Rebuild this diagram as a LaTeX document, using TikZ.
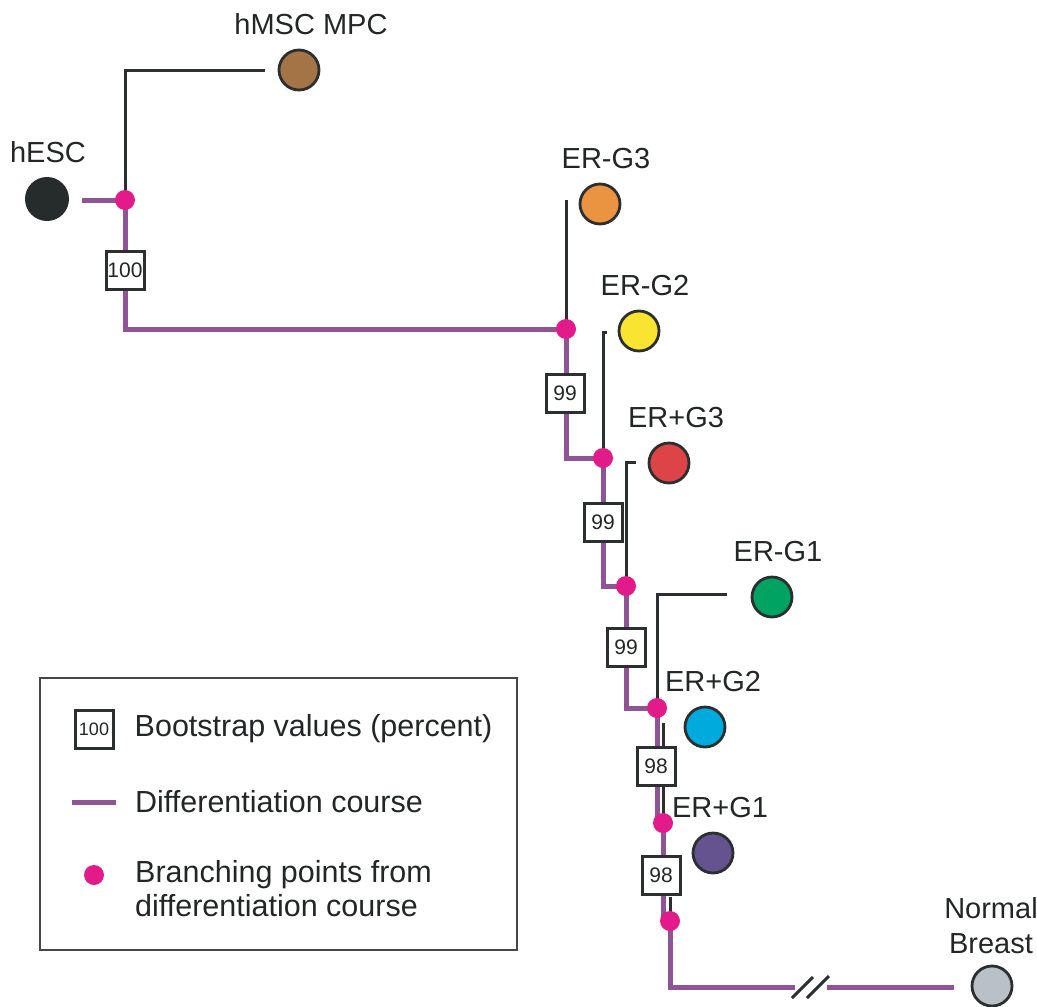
\documentclass[tikz,border=0pt]{standalone}
\usepackage{fontspec}
\setmainfont{Liberation Sans}
\usetikzlibrary{
  backgrounds,
  calc,
  positioning,
}
\definecolor{coursepurple}{RGB}{142,84,150}
\definecolor{branchpink}{RGB}{226,26,138}
\definecolor{linedark}{RGB}{43,47,47}
\definecolor{textdark}{RGB}{35,38,38}
\definecolor{framegray}{RGB}{70,72,72}
\definecolor{cellhesc}{RGB}{38,43,43}
\definecolor{cellmsc}{RGB}{164,115,70}
\definecolor{cellgthree}{RGB}{234,147,64}
\definecolor{cellgtwo}{RGB}{250,228,50}
\definecolor{cellpthree}{RGB}{221,68,71}
\definecolor{cellgone}{RGB}{0,163,98}
\definecolor{cellptwo}{RGB}{0,170,220}
\definecolor{cellpone}{RGB}{101,83,143}
\definecolor{cellnormal}{RGB}{185,192,199}
\tikzset{
  cell/.style={circle,draw=linedark,line width=2.8pt,minimum size=40pt,inner sep=0pt},
  branch/.style={circle,fill=branchpink,minimum size=20pt,inner sep=0pt},
  boot/.style={rectangle,draw=linedark,fill=white,line width=3pt,minimum width=38pt,minimum height=38pt,inner sep=0pt,text=textdark,font=\fontsize{21}{25}\selectfont},
  tag/.style={inner sep=0pt,text=textdark,font=\fontsize{29}{35}\selectfont},
  legtag/.style={inner sep=0pt,text=textdark,font=\fontsize{30.5}{34}\selectfont},
  course/.style={draw=coursepurple,line width=5pt},
  link/.style={draw=linedark,line width=3pt},
}

\begin{document}
\begin{tikzpicture}[x=1pt,y=-1pt,node distance=14pt]
  \useasboundingbox (0,0) rectangle (1037,1007);

  % cell types
  \node[cell,draw=none,fill=cellhesc,minimum size=44pt] (hesc) at (47,199) {};
  \node[cell,fill=cellmsc]    (hmsc)   at (299,70)  {};
  \node[cell,fill=cellgthree] (erg3)   at (600,204) {};
  \node[cell,fill=cellgtwo]   (erg2)   at (639,331) {};
  \node[cell,fill=cellpthree] (erp3)   at (669,463) {};
  \node[cell,fill=cellgone]   (erg1)   at (772,597) {};
  \node[cell,fill=cellptwo]   (erp2)   at (705,727) {};
  \node[cell,fill=cellpone]   (erp1)   at (713,853) {};
  \node[cell,fill=cellnormal] (normal) at (992,986) {};

  \node[tag,above=13pt of hesc,xshift=1pt]  {hESC};
  \node[tag,above=of hmsc,xshift=12pt]      {hMSC MPC};
  \node[tag,above=of erg3,xshift=6pt]       {ER-G3};
  \node[tag,above=of erg2,xshift=6pt]       {ER-G2};
  \node[tag,above=of erp3,xshift=7pt]       {ER+G3};
  \node[tag,above=of erg1,xshift=6pt]       {ER-G1};
  \node[tag,above=of erp2,xshift=8pt]       {ER+G2};
  \node[tag,above=of erp1,xshift=7pt]       {ER+G1};
  \node[tag,above=11pt of normal,align=center,xshift=-1pt] {Normal\\Breast};

  % branching points
  \node[branch] (b1) at (125,200) {};
  \node[branch] (b2) at (566,329) {};
  \node[branch] (b3) at (603,458) {};
  \node[branch] (b4) at (626,586) {};
  \node[branch] (b5) at (657,708) {};
  \node[branch] (b6) at (663,823) {};
  \node[branch] (b7) at (670,921) {};

  % bootstrap values
  \node[boot] (boot1) at (125,270) {100};
  \node[boot] (boot2) at (565,393) {99};
  \node[boot] (boot3) at (603,522) {99};
  \node[boot] (boot4) at (626,647) {99};
  \node[boot] (boot5) at (656,766) {98};
  \node[boot] (boot6) at (661,875) {98};

  \coordinate (hescend) at (82,200);
  \coordinate (hmsctip) at (265,70);
  \coordinate (erg3tip) at (566,200);
  \coordinate (erg2tip) at (607,332);
  \coordinate (erp3tip) at (636,462);
  \coordinate (erg1tip) at (727,594);
  \coordinate (erp2tip) at (663,723);
  \coordinate (erp1tip) at (670,897);
  \coordinate (cut1)    at (795,987);
  \coordinate (cut2)    at (827,987);
  \coordinate (normalend) at (954,987);

  \begin{pgfonlayer}{background}
    \draw[course] (hescend) -- (b1.center);
    \draw[course] (b1.center) |- (b2.center);
    \draw[course] (b2.center) |- (b3.center);
    \draw[course] (b3.center) |- (b4.center);
    \draw[course] (b4.center) |- (b5.center);
    \draw[course] (b5.center) |- (b6.center);
    \draw[course] (b6.center) |- (b7.center);
    \draw[course] (b7.center) |- (cut1);
    \draw[course] (cut2) -- (normalend);

    \draw[link] (b1.center) |- (hmsctip);
    \draw[link] (b2.center) -- (erg3tip);
    \draw[link] (b3.center) |- (erg2tip);
    \draw[link] (b4.center) |- (erp3tip);
    \draw[link] (b5.center) |- (erg1tip);
    \draw[link] (b6.center) -- (erp2tip);
    \draw[link] (b7.center) -- (erp1tip);
  \end{pgfonlayer}

  % break in the line
  \draw[link] ($(cut1)+(-3,11)$) -- ($(cut1)+(18,-10)$);
  \draw[link] ($(cut1)+(12,11)$) -- ($(cut1)+(34,-11)$);

  % legend
  \node[draw=framegray,line width=1.5pt,minimum width=477pt,minimum height=272pt] (legend) at (278.5,814) {};
  \node[boot,font=\fontsize{18}{22}\selectfont] (legbox) at (94,729) {100};
  \node[legtag,right=20pt of legbox] (legtext1) {Bootstrap values (percent)};
  \coordinate (legline1) at (72,802);
  \coordinate (legline2) at (116,802);
  \draw[course] (legline1) -- (legline2);
  \node[legtag,anchor=west] (legtext2) at (135,802) {Differentiation course};
  \node[branch] (legdot) at (94,875) {};
  \node[legtag,anchor=north west,align=left] (legtext3) at (135,860)
    {Branching points from\\differentiation course};

\end{tikzpicture}
\end{document}
